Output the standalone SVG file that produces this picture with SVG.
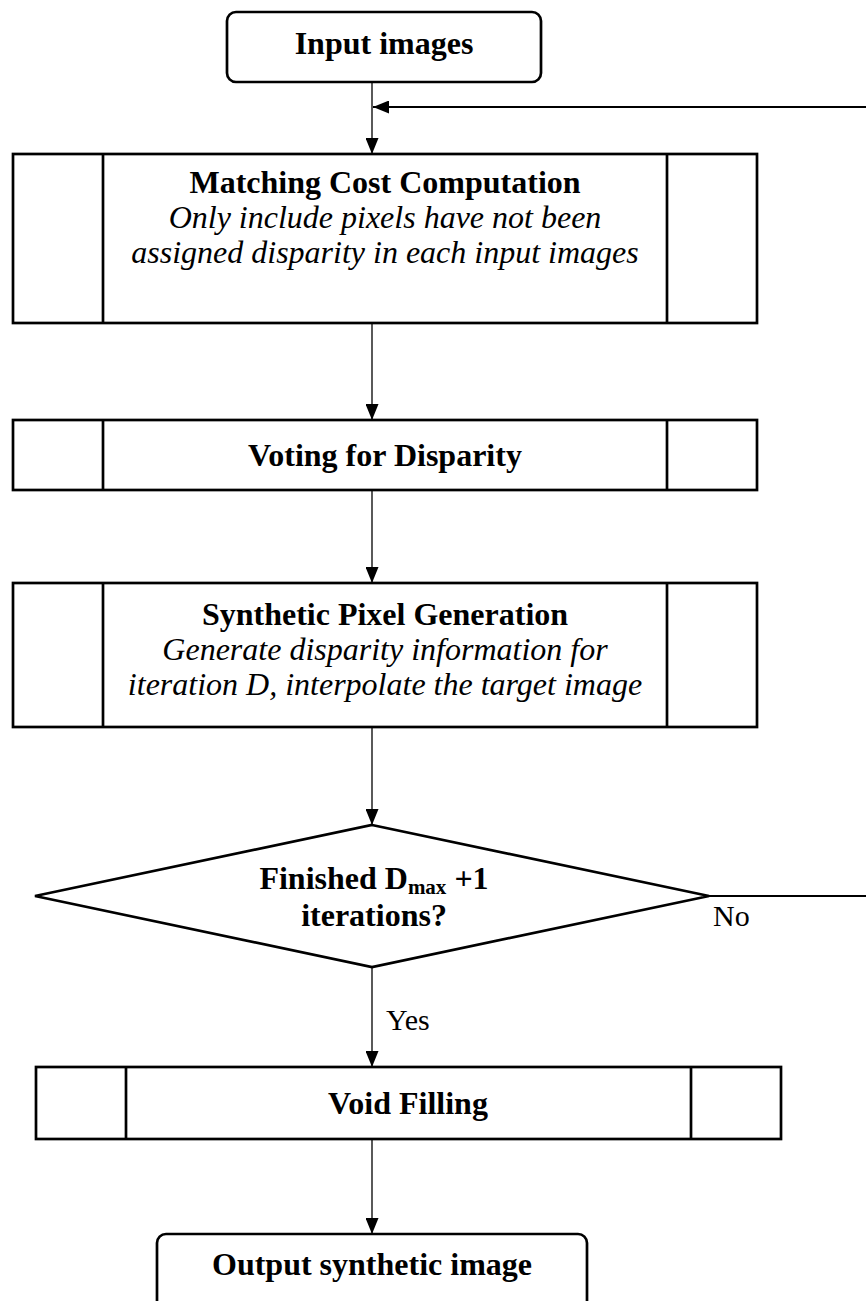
<svg xmlns="http://www.w3.org/2000/svg" width="866" height="1301" viewBox="0 0 866 1301">
  <defs>
    <marker id="arrow" markerWidth="16" markerHeight="13" refX="16" refY="6.5" orient="auto" markerUnits="userSpaceOnUse">
      <path d="M0,0 L16,6.5 L0,13 Z" fill="#000"/>
    </marker>
    <style>
      .box { fill: #fff; stroke: #000; stroke-width: 2.7; }
      .div { stroke: #000; stroke-width: 2.7; }
      .conn { fill: none; stroke: #000; stroke-width: 1.3; }
      .thick { stroke-width: 2.2; }
      .t { font-family: "Liberation Serif", "Times New Roman", serif; font-size: 32px; fill: #000; text-anchor: middle; }
      .b { font-weight: bold; }
      .i { font-style: italic; }
      .lbl { font-family: "Liberation Serif", "Times New Roman", serif; font-size: 30px; fill: #000; }
    </style>
  </defs>

  <!-- connectors -->
  <g id="connectors">
    <line class="conn" x1="372" y1="82" x2="372" y2="154" marker-end="url(#arrow)"/>
    <line class="conn thick" x1="866" y1="107" x2="373" y2="107" marker-end="url(#arrow)"/>
    <line class="conn" x1="372" y1="323" x2="372" y2="420" marker-end="url(#arrow)"/>
    <line class="conn" x1="372" y1="490" x2="372" y2="583" marker-end="url(#arrow)"/>
    <line class="conn" x1="372" y1="727" x2="372" y2="825" marker-end="url(#arrow)"/>
    <line class="conn thick" x1="709" y1="896" x2="866" y2="896"/>
    <line class="conn" x1="372" y1="967" x2="372" y2="1067" marker-end="url(#arrow)"/>
    <line class="conn" x1="372" y1="1139" x2="372" y2="1234" marker-end="url(#arrow)"/>
    <text class="lbl" x="713" y="926">No</text>
    <text class="lbl" x="386" y="1030">Yes</text>
  </g>

  <!-- start -->
  <g id="input-images">
    <rect class="box" x="227" y="12" width="314" height="70" rx="9"/>
    <text class="t b" x="384" y="54">Input images</text>
  </g>

  <!-- predefined process: matching cost -->
  <g id="matching-cost">
    <rect class="box" x="13" y="154" width="744" height="169"/>
    <line class="div" x1="103" y1="154" x2="103" y2="323"/>
    <line class="div" x1="667" y1="154" x2="667" y2="323"/>
    <text class="t b" x="385" y="193">Matching Cost Computation</text>
    <text class="t i" x="385" y="228">Only include pixels have not been</text>
    <text class="t i" x="385" y="263">assigned disparity in each input images</text>
  </g>

  <g id="voting">
    <rect class="box" x="13" y="420" width="744" height="70"/>
    <line class="div" x1="103" y1="420" x2="103" y2="490"/>
    <line class="div" x1="667" y1="420" x2="667" y2="490"/>
    <text class="t b" x="385" y="466">Voting for Disparity</text>
  </g>

  <g id="synthetic-pixel">
    <rect class="box" x="13" y="583" width="744" height="144"/>
    <line class="div" x1="103" y1="583" x2="103" y2="727"/>
    <line class="div" x1="667" y1="583" x2="667" y2="727"/>
    <text class="t b" x="385" y="625">Synthetic Pixel Generation</text>
    <text class="t i" x="385" y="660">Generate disparity information for</text>
    <text class="t i" x="385" y="695">iteration D, interpolate the target image</text>
  </g>

  <!-- decision -->
  <g id="finished-check">
    <polygon class="box" points="372,825 709,896 372,967 35,896"/>
    <text class="t b" x="374" y="889">Finished D<tspan font-size="21" dy="5">max</tspan><tspan dy="-5"> +1</tspan></text>
    <text class="t b" x="374" y="926">iterations?</text>
  </g>

  <g id="void-filling">
    <rect class="box" x="36" y="1067" width="745" height="72"/>
    <line class="div" x1="126" y1="1067" x2="126" y2="1139"/>
    <line class="div" x1="691" y1="1067" x2="691" y2="1139"/>
    <text class="t b" x="408" y="1114">Void Filling</text>
  </g>

  <!-- end -->
  <g id="output-image">
    <rect class="box" x="157" y="1234" width="430" height="80" rx="9"/>
    <text class="t b" x="372" y="1275">Output synthetic image</text>
  </g>
</svg>
